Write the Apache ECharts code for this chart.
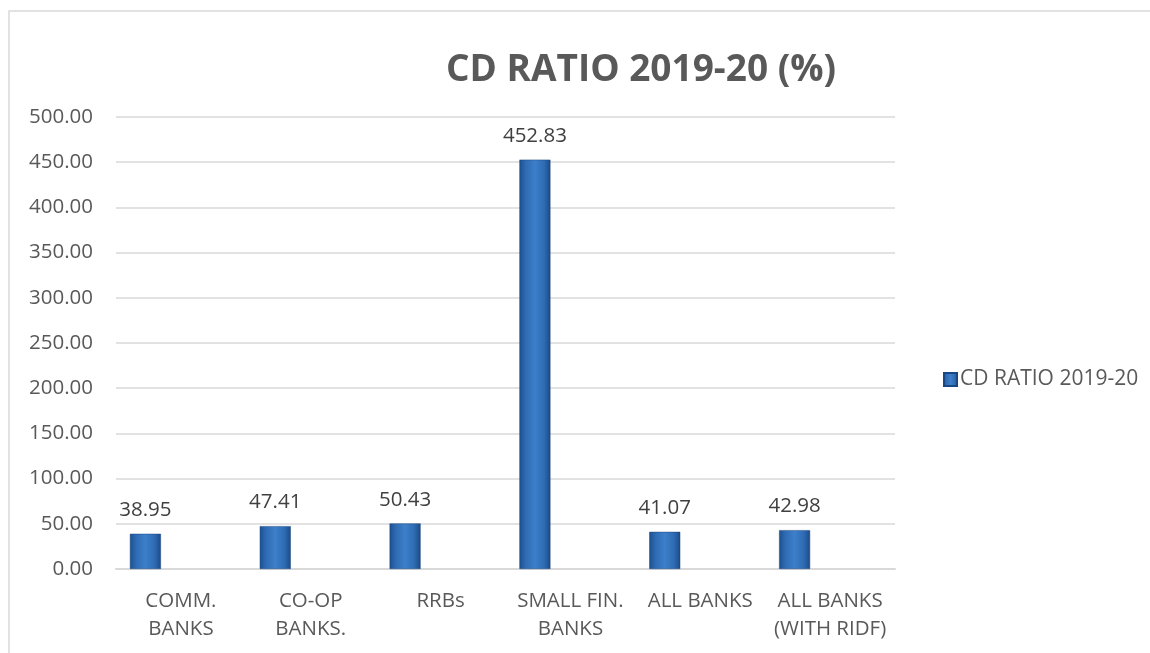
<!DOCTYPE html>
<html><head><meta charset="utf-8">
<script src="https://cdn.jsdelivr.net/npm/echarts@6/dist/echarts.min.js"></script>
<style>html,body{margin:0;padding:0;background:#fff}#c{width:1150px;height:653px}</style>
</head><body><div id="c"></div>
<script>
const categories = ["COMM.\nBANKS", "CO-OP\nBANKS.", "RRBs", "SMALL FIN.\nBANKS", "ALL BANKS", "ALL BANKS\n(WITH RIDF)"];
const cdRatio = [38.95, 47.41, 50.43, 452.83, 41.07, 42.98];
const seriesName = "CD RATIO 2019-20";
const titleText = "CD RATIO 2019-20 (%)";

const chart = echarts.init(document.getElementById('c'));
const barColor = new echarts.graphic.LinearGradient(0, 0, 1, 0, [
  {offset: 0, color: '#1d4f8e'},
  {offset: 0.2, color: '#2e6bb3'},
  {offset: 0.5, color: '#3d7fca'},
  {offset: 0.8, color: '#2e6bb3'},
  {offset: 1, color: '#1b4a86'}
]);
chart.setOption({
  animation: false,
  textStyle: {fontFamily: 'Open Sans'},
  graphic: [{
    type: 'rect', shape: {x: 9, y: 11, width: 1200, height: 700},
    style: {fill: 'none', stroke: '#d9d9d9', lineWidth: 1.5}, silent: true, z: -10
  }],
  title: {
    text: titleText, left: 636, top: 47, textAlign: 'center',
    textStyle: {fontFamily: 'Open Sans', fontWeight: 'bold', fontSize: 37, color: '#595959'}
  },
  legend: {
    data: [seriesName], left: 938, top: 364, itemWidth: 13, itemHeight: 13, itemGap: 4,
    icon: 'rect',
    textStyle: {fontSize: 21, color: '#595959', fontFamily: 'Open Sans', padding: [0,0,0,-2]}
  },
  grid: {left: 116, right: 255, top: 117, bottom: 84, containLabel: false},
  xAxis: {
    type: 'category', data: categories,
    axisLine: {lineStyle: {color: '#d9d9d9', width: 2}},
    axisTick: {show: false},
    axisLabel: {fontSize: 20.5, color: '#595959', margin: 18, lineHeight: 28, interval: 0, fontFamily: 'Open Sans'}
  },
  yAxis: {
    type: 'value', min: 0, max: 500, interval: 50,
    axisLine: {show: false}, axisTick: {show: false},
    splitLine: {lineStyle: {color: '#d9d9d9', width: 1.5}},
    axisLabel: {fontSize: 20.5, color: '#595959', margin: 23, formatter: v => v.toFixed(2), fontFamily: 'Open Sans'}
  },
  series: [{
    name: seriesName, type: 'bar', data: cdRatio, barWidth: 31, barGap: '129%',
    itemStyle: {color: barColor, borderColor: '#1a4682', borderWidth: 0.5},
    label: {show: true, position: 'top', distance: 13, fontSize: 20.5, color: '#404040', formatter: p => p.value.toFixed(2), fontFamily: 'Open Sans'}
  }, {
    name: 'spacer', type: 'bar', data: cdRatio.map(() => null), barWidth: 31, silent: true
  }]
});
</script></body></html>
